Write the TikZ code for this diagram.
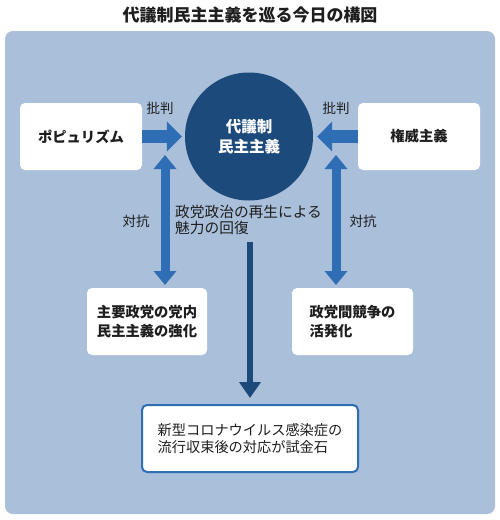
\documentclass[tikz,border=0pt]{standalone}
\usepackage{fontspec}
\newfontfamily\jp{Noto Sans CJK JP}
\usetikzlibrary{arrows.meta}
\definecolor{panel}{RGB}{169,191,218}
\definecolor{midblue}{RGB}{47,109,181}
\definecolor{navy}{RGB}{28,74,122}
\definecolor{ink}{RGB}{30,30,30}
\tikzset{
  whitebox/.style={fill=white, rounded corners=5pt, minimum width=122pt, minimum height=67pt, inner sep=0pt, font=\jp\bfseries\fontsize{14.3}{18.5}\selectfont, text=ink, align=left},
  hbar/.style={draw=midblue, line width=13pt, -{Triangle[width=29pt,length=15pt]}},
  vbar/.style={draw=midblue, line width=9pt, {Triangle[width=22pt,length=14pt]}-{Triangle[width=22pt,length=14pt]}},
  darkbar/.style={draw=navy, line width=6.5pt, -{Triangle[width=21pt,length=16pt]}},
  lbl/.style={font=\jp\fontsize{13.5}{16}\selectfont, text=ink, inner sep=0pt},
}
\begin{document}
\begin{tikzpicture}[x=1pt,y=-1pt]
\useasboundingbox (0,0) rectangle (500,520);
\fill[white] (0,0) rectangle (500,520);
\node[font=\jp\bfseries\fontsize{17}{20}\selectfont, text=ink] (title) at (250,15) {代議制民主主義を巡る今日の構図};
\fill[panel, rounded corners=8pt] (5,31) rectangle (495,514);

\node[circle, fill=navy, minimum size=128pt, inner sep=0pt, text=white, align=center, font=\jp\bfseries\fontsize{15.5}{19.5}\selectfont] (dem) at (249,136.5) {代議制\\民主主義};

\node[whitebox] (pop) at (81,136.5) {ポピュリズム};
\node[whitebox] (auth) at (419,136.5) {権威主義};
\node[whitebox, minimum width=120pt] (ipd) at (147,321.5) {主要政党の党内\\民主主義の強化};
\node[whitebox, minimum width=121pt] (comp) at (352.5,321.5) {政党間競争の\\活発化};
\node[whitebox, minimum width=216pt, draw=midblue, line width=2pt, font=\jp\fontsize{14.2}{17}\selectfont] (corona) at (250,438.5) {新型コロナウイルス感染症の\\流行収束後の対応が試金石};

\draw[hbar, shorten >=3pt] (pop.east) -- (dem.west);
\draw[hbar, shorten >=4pt] (auth.west) -- (dem.east);
\node[lbl] (lc1) at (160,108) {批判};
\node[lbl] (lc2) at (336,108) {批判};

\coordinate (vlt) at (165,155);
\coordinate (vlb) at (165,285);
\coordinate (vrt) at (336,155);
\coordinate (vrb) at (336,285);
\draw[vbar] (vlt) -- (vlb);
\draw[vbar] (vrt) -- (vrb);
\node[lbl] (lo1) at (136,221) {対抗};
\node[lbl] (lo2) at (363,221) {対抗};

\node[lbl, anchor=west, align=left, font=\jp\fontsize{14.7}{16.5}\selectfont] (mid) at (175,220) {政党政治の再生による\\魅力の回復};

\coordinate (dtop) at (250,242);
\draw[darkbar, shorten >=6pt] (dtop) -- (corona.north);
\end{tikzpicture}
\end{document}
